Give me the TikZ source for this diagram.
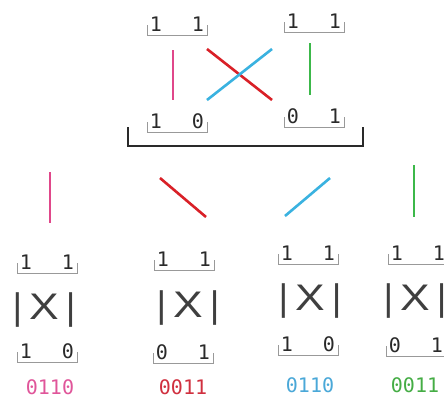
\documentclass[tikz,border=0pt]{standalone}
\usepackage{fontspec}
\usepackage{graphicx}
\newfontfamily\monofnt{DejaVu Sans Mono}
\newfontfamily\sansfnt{Liberation Sans}
\definecolor{cpink}{HTML}{E0478A}
\definecolor{cred}{HTML}{D92027}
\definecolor{cblue}{HTML}{3AB2E0}
\definecolor{cgreen}{HTML}{3CB84A}
\definecolor{tpink}{HTML}{E0559A}
\definecolor{tred}{HTML}{D0303F}
\definecolor{tblue}{HTML}{4AA8D8}
\definecolor{tgreen}{HTML}{45AD45}
\definecolor{ink}{HTML}{2A2A2A}
\tikzset{
  dig/.style={inner sep=0pt, text=ink, font=\monofnt\fontsize{20}{20}\selectfont},
  brk/.style={draw=gray!80, line width=0.9pt},
  bigbrk/.style={draw=ink, line width=1.8pt},
  seg/.style={line width=2.6pt},
  gate/.style={inner sep=0pt, text=ink!90, font=\sansfnt\fontsize{37}{37}\selectfont},
  lbl/.style={inner sep=0pt, font=\monofnt\fontsize{20}{20}\selectfont}
}
\newcommand\pairlbl[5]{%
  \node[dig] (#1a) at (#2-21,#3) {#4};
  \node[dig] (#1b) at (#2+21,#3) {#5};
  \draw[brk] (#2-30,#3+1) |- (#2+30,#3+11) -- (#2+30,#3+1);
}
\newcommand\gatetxt{|\hspace{7pt}\scalebox{1.2}[1]{X}\hspace{7pt}|}
\begin{document}
\begin{tikzpicture}[x=1pt,y=-1pt]
\clip (0,0) rectangle (444,400);
\fill[white] (0,0) rectangle (444,400);
% top group
\pairlbl{tl}{177}{24}{1}{1}
\pairlbl{bl}{177}{121}{1}{0}
\pairlbl{tr}{314}{21}{1}{1}
\pairlbl{br}{314}{116}{0}{1}
\coordinate (pk1) at (173,50); \coordinate (pk2) at (173,100);
\coordinate (rd1) at (207,49); \coordinate (rd2) at (272,100);
\coordinate (bl1) at (207,100); \coordinate (bl2) at (272,49);
\coordinate (gr1) at (310,43); \coordinate (gr2) at (310,95);
\draw[seg, cpink] (pk1) -- (pk2);
\draw[seg, cred] (rd1) -- (rd2);
\draw[seg, cblue] (bl1) -- (bl2);
\draw[seg, cgreen] (gr1) -- (gr2);
\coordinate (bb1) at (128,127); \coordinate (bb2) at (363,146);
\draw[bigbrk] (bb1) |- (bb2) -- (363,127);
% middle row
\coordinate (mp1) at (50,172); \coordinate (mp2) at (50,223);
\coordinate (mr1) at (160,178); \coordinate (mr2) at (206,217);
\coordinate (mb1) at (285,216); \coordinate (mb2) at (330,178);
\coordinate (mg1) at (414,165); \coordinate (mg2) at (414,217);
\draw[seg, cpink] (mp1) -- (mp2);
\draw[seg, cred] (mr1) -- (mr2);
\draw[seg, cblue] (mb1) -- (mb2);
\draw[seg, cgreen] (mg1) -- (mg2);
% bottom columns
\pairlbl{ca}{47}{262}{1}{1}
\pairlbl{cb}{47}{351}{1}{0}
\pairlbl{da}{184}{259}{1}{1}
\pairlbl{db}{183}{352}{0}{1}
\pairlbl{ea}{308}{253}{1}{1}
\pairlbl{eb}{308}{344}{1}{0}
\pairlbl{fa}{418}{253}{1}{1}
\pairlbl{fb}{416}{345}{0}{1}
\node[gate] (g1) at (44,310) {\gatetxt};
\node[gate] (g2) at (188,308) {\gatetxt};
\node[gate] (g3) at (310,301) {\gatetxt};
\node[gate] (g4) at (415,301) {\gatetxt};
\node[lbl, text=tpink] (n1) at (50,387) {0110};
\node[lbl, text=tred] (n2) at (183,387) {0011};
\node[lbl, text=tblue] (n3) at (310,385) {0110};
\node[lbl, text=tgreen] (n4) at (415,385) {0011};
\end{tikzpicture}
\end{document}
